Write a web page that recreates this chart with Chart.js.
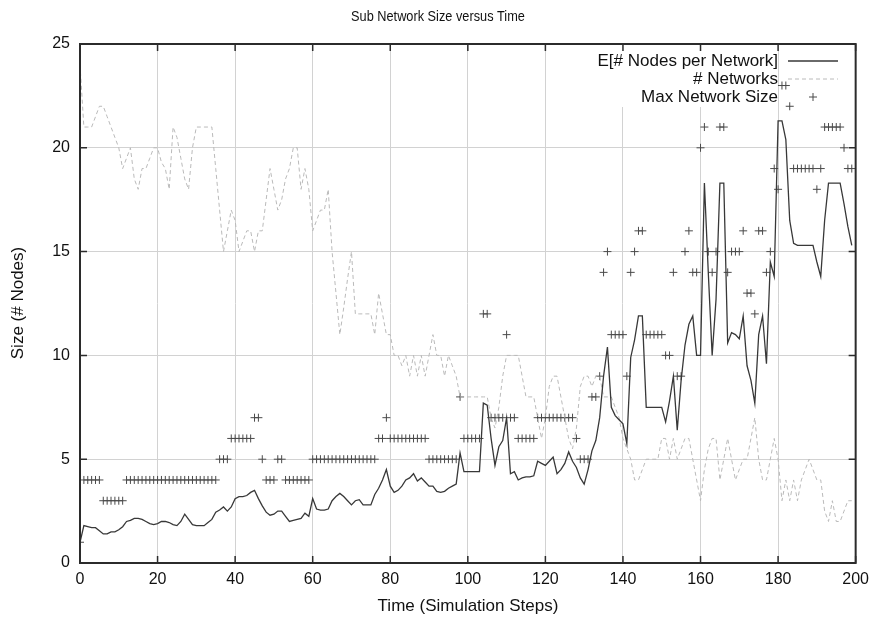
<!DOCTYPE html>
<html><head><meta charset="utf-8">
<script src="https://cdn.jsdelivr.net/npm/chart.js@4"></script>
<style>html,body{margin:0;padding:0;background:#fff}#wrap{width:876px;height:617px}</style>
</head><body><div id="wrap"><canvas id="c" width="876" height="617"></canvas></div>
<script>
const steps = [0,1,2,3,4,5,6,7,8,9,10,11,12,13,14,15,16,17,18,19,20,21,22,23,24,25,26,27,28,29,30,31,32,33,34,35,36,37,38,39,40,41,42,43,44,45,46,47,48,49,50,51,52,53,54,55,56,57,58,59,60,61,62,63,64,65,66,67,68,69,70,71,72,73,74,75,76,77,78,79,80,81,82,83,84,85,86,87,88,89,90,91,92,93,94,95,96,97,98,99,100,101,102,103,104,105,106,107,108,109,110,111,112,113,114,115,116,117,118,119,120,121,122,123,124,125,126,127,128,129,130,131,132,133,134,135,136,137,138,139,140,141,142,143,144,145,146,147,148,149,150,151,152,153,154,155,156,157,158,159,160,161,162,163,164,165,166,167,168,169,170,171,172,173,174,175,176,177,178,179,180,181,182,183,184,185,186,187,188,189,190,191,192,193,194,195,196,197,198,199];

const meanNodes = [
 1.0,1.8,1.75,1.7,1.7,1.55,1.4,1.4,1.5,1.5,
 1.6,1.75,2.0,2.05,2.15,2.15,2.1,2.0,1.9,1.85,
 1.9,2.0,2.0,1.95,1.85,1.8,2.0,2.35,2.1,1.85,
 1.8,1.8,1.8,1.95,2.1,2.45,2.55,2.7,2.5,2.7,
 3.1,3.2,3.2,3.25,3.4,3.5,3.1,2.75,2.45,2.3,
 2.35,2.5,2.5,2.25,2.0,2.05,2.1,2.15,2.4,2.25,
 3.1,2.6,2.55,2.55,2.6,3.0,3.2,3.35,3.2,3.0,
 2.8,3.0,3.05,2.8,2.8,2.8,3.3,3.6,4.0,4.5,
 3.7,3.4,3.5,3.7,4.0,4.1,4.3,3.95,4.1,3.9,
 3.7,3.7,3.45,3.4,3.45,3.6,3.7,3.8,5.3,4.4,
 4.4,4.4,4.4,4.4,7.7,7.6,6.0,4.7,5.6,5.9,
 7.0,4.3,4.4,4.0,4.1,4.15,4.15,4.2,4.9,4.8,
 4.7,4.9,5.1,4.3,4.5,4.8,5.35,4.9,4.6,4.1,
 3.8,4.5,5.4,5.9,7.0,9.0,10.4,7.5,7.1,6.9,
 6.7,5.75,9.9,10.75,11.9,11.9,7.5,7.5,7.5,7.5,
 7.5,6.8,7.8,9.0,6.4,8.8,10.5,11.5,11.9,10.0,
 10.0,18.3,14.0,10.0,12.7,18.3,18.3,10.6,11.1,11.0,
 10.8,11.9,9.5,8.8,7.7,11.0,11.9,9.6,14.5,13.8,
 21.3,21.3,20.4,16.5,15.4,15.3,15.3,15.3,15.3,15.3,
 14.5,13.8,16.5,18.3,18.3,18.3,18.3,17.3,16.2,15.3];

const numNetworks = [
 24,21,21,21,21.5,22,22,21.5,21,20.5,
 20,19,19.5,20,18.5,18,19,19,19.5,20,
 20,19.3,19,18,21,20.5,19.5,18.5,18,20,
 21,21,21,21,21,19,17,15,16,17,
 16.5,15,15.5,16,16,15,16,16,17.5,19,
 18,17,17.5,18.5,19,20,20,18,19,18,
 16,16.5,17,17,18,15,13,11,12.3,13.7,
 15,12,12,12,12,12,11,13,12,11,
 11,10,10,9.5,10,9,10,9,10,9,
 10,11,10,10,9,10,9.5,9,8,8,
 8,8,8,8,8,8,7,6.5,7.5,9,
 10,10,10,10,9,8,8,8,7,6,
 7,8.5,9,9,8,7,6,5.5,6.5,8.5,
 9,9,8.5,9,9,8,8,8,7.5,7,
 6,5.5,5,4,4,4.5,5,5,5,5,
 6,6,5,6,5,5.5,6,6,5,4,
 3,4.5,5.5,6,6,4,5,6,5,4,
 4.5,5,5,6,7,5,4,4,5,6,
 5,3,4,3,4,3,4,4.5,5,4.5,
 4,4,2.5,2,3,2,2,2.5,3,3];

const maxSize = [
 1,4,4,4,4,4,3,3,3,3,
 3,3,4,4,4,4,4,4,4,4,
 4,4,4,4,4,4,4,4,4,4,
 4,4,4,4,4,4,5,5,5,6,
 6,6,6,6,6,7,7,5,4,4,
 4,5,5,4,4,4,4,4,4,4,
 5,5,5,5,5,5,5,5,5,5,
 5,5,5,5,5,5,5,6,6,7,
 6,6,6,6,6,6,6,6,6,6,
 5,5,5,5,5,5,5,5,8,6,
 6,6,6,6,12,12,7,7,7,7,
 11,7,7,6,6,6,6,6,7,7,
 7,7,7,7,7,7,7,7,6,5,
 5,5,8,8,9,14,15,11,11,11,
 11,9,14,15,16,16,11,11,11,11,
 11,10,10,14,9,9,15,16,14,14,
 20,21,15,14,15,21,21,14,15,15,
 15,16,13,13,12,16,16,14,15,19,
 18,23,23,22,19,19,19,19,19,19,
 18,19,21,21,21,21,21,20,19,19];

const xTicks = [0,20,40,60,80,100,120,140,160,180,200];
const yTicks = [0,5,10,15,20,25];
const seriesNames = ['E[# Nodes per Network]', '# Networks', 'Max Network Size'];
const titleText = 'Sub Network Size versus Time';
const xTitle = 'Time (Simulation Steps)';
const yTitle = 'Size (# Nodes)';

const FONT = "'Liberation Sans', Arial, Helvetica, sans-serif";
const C_MEAN = '#383838', C_NET = '#bababa', C_MAX = '#4a4a4a';

const framePlugin = {
  id: 'frame',
  beforeDatasetsDraw(chart) {
    const ctx = chart.ctx, a = chart.chartArea;
    ctx.save();
    ctx.fillStyle = '#fff';
    ctx.fillRect(588, a.top + 1, 188, 62);
    ctx.restore();
  },
  afterDatasetsDraw(chart) {
    const ctx = chart.ctx, a = chart.chartArea;
    const xs = chart.scales.x, ys = chart.scales.y;
    ctx.save();
    ctx.strokeStyle = '#2b2b2b';
    ctx.lineWidth = 1.5;
    ctx.beginPath();
    xTicks.forEach(v => {
      const px = xs.getPixelForValue(v);
      ctx.moveTo(px, a.bottom); ctx.lineTo(px, a.bottom - 7);
      ctx.moveTo(px, a.top); ctx.lineTo(px, a.top + 7);
    });
    yTicks.forEach(v => {
      const py = ys.getPixelForValue(v);
      ctx.moveTo(a.left, py); ctx.lineTo(a.left + 7, py);
      ctx.moveTo(a.right, py); ctx.lineTo(a.right - 7, py);
    });
    ctx.stroke();
    ctx.lineWidth = 2;
    ctx.strokeRect(a.left, a.top, a.right - a.left, a.bottom - a.top);
    ctx.font = '17px ' + FONT;
    ctx.fillStyle = '#111';
    ctx.textAlign = 'right';
    ctx.textBaseline = 'middle';
    const lx = 778, rows = [61, 79, 97];
    seriesNames.forEach((n, i) => ctx.fillText(n, lx, rows[i]));
    ctx.lineWidth = 1.3; ctx.strokeStyle = C_MEAN;
    ctx.beginPath(); ctx.moveTo(788, rows[0]); ctx.lineTo(838, rows[0]); ctx.stroke();
    ctx.lineWidth = 1; ctx.strokeStyle = C_NET; ctx.setLineDash([4, 3]);
    ctx.beginPath(); ctx.moveTo(788, rows[1]); ctx.lineTo(838, rows[1]); ctx.stroke();
    ctx.setLineDash([]);
    ctx.strokeStyle = C_MAX; ctx.lineWidth = 1;
    ctx.beginPath(); ctx.moveTo(809, rows[2]); ctx.lineTo(817, rows[2]);
    ctx.moveTo(813, rows[2] - 4); ctx.lineTo(813, rows[2] + 4); ctx.stroke();
    ctx.restore();
  },
  afterDraw(chart) {
    const ctx = chart.ctx;
    ctx.save();
    ctx.fillStyle = '#111';
    ctx.textAlign = 'center';
    ctx.textBaseline = 'middle';
    ctx.font = '15px ' + FONT;
    ctx.save();
    ctx.translate(438, 17);
    ctx.scale(0.85, 1);
    ctx.fillText(titleText, 0, 0);
    ctx.restore();
    ctx.font = '17px ' + FONT;
    ctx.fillText(xTitle, 468, 606);
    ctx.translate(18, 303);
    ctx.rotate(-Math.PI / 2);
    ctx.fillText(yTitle, 0, 0);
    ctx.restore();
  }
};

new Chart(document.getElementById('c').getContext('2d'), {
  type: 'line',
  data: {
    datasets: [
      { label: seriesNames[0], data: steps.map((s, i) => ({ x: s, y: meanNodes[i] })),
        borderColor: C_MEAN, borderWidth: 1.3, pointRadius: 0, fill: false, tension: 0 },
      { label: seriesNames[1], data: steps.map((s, i) => ({ x: s, y: numNetworks[i] })),
        borderColor: C_NET, borderWidth: 1, borderDash: [4, 3], pointRadius: 0, fill: false, tension: 0 },
      { label: seriesNames[2], data: steps.map((s, i) => ({ x: s, y: maxSize[i] })),
        showLine: false, pointStyle: 'cross', pointRadius: 4, pointBorderColor: C_MAX,
        pointBorderWidth: 1, borderColor: C_MAX, backgroundColor: C_MAX }
    ]
  },
  options: {
    responsive: false, animation: false, devicePixelRatio: 1,
    layout: { padding: { top: 44, right: 20, bottom: 0, left: 0 } },
    plugins: { legend: { display: false }, title: { display: false }, tooltip: { enabled: false } },
    scales: {
      x: {
        type: 'linear', min: 0, max: 200,
        afterBuildTicks: s => { s.ticks = xTicks.map(v => ({ value: v })); },
        ticks: { font: { family: FONT, size: 16 }, color: '#111', padding: 7, maxRotation: 0, autoSkip: false },
        grid: { color: '#d2d2d2', drawTicks: false, lineWidth: 1 },
        border: { display: false },
        afterFit: s => { s.height = 54; }
      },
      y: {
        type: 'linear', min: 0, max: 25,
        afterBuildTicks: s => { s.ticks = yTicks.map(v => ({ value: v })); },
        ticks: { font: { family: FONT, size: 16 }, color: '#111', padding: 10 },
        grid: { color: '#d2d2d2', drawTicks: false, lineWidth: 1 },
        border: { display: false },
        afterFit: s => { s.width = 80; }
      }
    }
  },
  plugins: [framePlugin]
});
</script>
</body></html>
